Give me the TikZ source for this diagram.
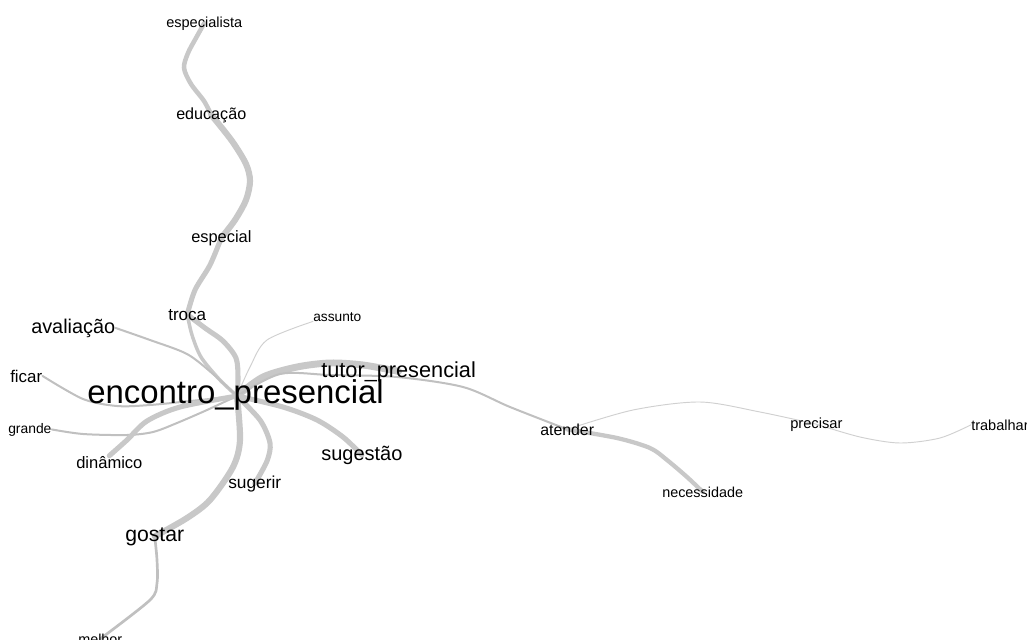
\documentclass[tikz,border=0pt]{standalone}
\usepackage{fontspec}
\setmainfont{Liberation Sans}
\usetikzlibrary{backgrounds}
\definecolor{edgegray}{RGB}{200,200,200}
\definecolor{thingray}{RGB}{192,192,192}
\definecolor{faintgray}{RGB}{208,208,208}
\begin{document}
\begin{tikzpicture}[x=0.75pt,y=-0.75pt,
  lbl/.style={inner sep=0pt, anchor=base west, text=black,
    font=\fontsize{#1}{#1}\selectfont},
  wedge/.style={draw=edgegray, line width=#1, line cap=round, line join=round},
  thinedge/.style={draw=thingray, line width=#1, line cap=round, line join=round},
  faintedge/.style={draw=faintgray, line width=0.7pt, line cap=round}]
\useasboundingbox (0,0) rectangle (1027,639);

% word labels (left edge, baseline)
\node[lbl=24.7] (enc)      at (87,403)  {encontro\_presencial};
\node[lbl=16.3] (tutor)    at (321,377) {tutor\_presencial};
\node[lbl=14.9] (aval)     at (31,333)  {avaliação};
\node[lbl=15.0] (sugestao) at (321,460) {sugestão};
\node[lbl=15.9] (gostar)   at (125,541) {gostar};
\node[lbl=12.1] (educ)     at (176,119) {educação};
\node[lbl=12.3] (esp)      at (191,242) {especial};
\node[lbl=10.9] (esplista) at (166,27)  {especialista};
\node[lbl=12.8] (troca)    at (168,320) {troca};
\node[lbl=10.3] (assunto)  at (313,321) {assunto};
\node[lbl=12.7] (ficar)    at (10,382)  {ficar};
\node[lbl=10.4] (grande)   at (8,433)   {grande};
\node[lbl=12.4] (din)      at (76,468)  {dinâmico};
\node[lbl=13.0] (sugerir)  at (228,488) {sugerir};
\node[lbl=10.8] (melhor)   at (78,644)  {melhor};
\node[lbl=11.9] (atender)  at (540,435) {atender};
\node[lbl=10.8] (nec)      at (662,497) {necessidade};
\node[lbl=11.0] (prec)     at (790,428) {precisar};
\node[lbl=10.9] (trab)     at (971,430) {trabalhar};

\coordinate (hub) at (237,396);

\begin{pgfonlayer}{background}
\fill[white] (0,0) rectangle (1027,639);
% upper chain
\draw[wedge=3.4pt] plot[smooth] coordinates {(esplista.center) (196,38) (188,53) (184,68) (191,84) (204,101) (educ.center)};
\draw[wedge=4.6pt] plot[smooth] coordinates {(educ.center) (232,141) (246,164) (250,181) (246,200) (235,220) (esp.center)};
\draw[wedge=3.8pt] plot[smooth] coordinates {(esp.center) (210,265) (195,290) (troca.center)};
\draw[wedge=2.6pt] plot[smooth] coordinates {(troca.center) (192,335) (201,357) (219,379) (hub)};
\draw[wedge=3.8pt] plot[smooth] coordinates {(troca.center) (205,328) (223,341) (236,358) (238,378) (hub)};
% left side
\draw[thinedge=1.5pt] plot[smooth] coordinates {(aval.east) (150,340) (187,354) (213,374) (hub)};
\draw[thinedge=1.5pt] plot[smooth] coordinates {(ficar.east) (83,399) (117,406) (150,405) (200,400) (hub)};
\draw[thinedge=1.5pt] plot[smooth] coordinates {(grande.east) (83,434) (127,435) (153,432) (177,423) (207,410) (hub)};
\draw[wedge=3.8pt] plot[smooth] coordinates {(din.north) (127,440) (147,421) (180,407) (hub)};
\draw[faintedge] plot[smooth] coordinates {(assunto.south west) (267,340) (250,367) (hub)};
% right side
\draw[wedge=5.2pt] plot[smooth] coordinates {(hub) (263,377) (297,367) (330,363) (363,365) (tutor.center)};
\draw[thinedge=1.5pt] plot[smooth] coordinates {(hub) (280,374) (330,375) (397,377) (463,387) (510,407) (atender.center)};
\draw[wedge=3.8pt] plot[smooth] coordinates {(hub) (283,407) (317,420) (343,437) (sugestao.center)};
\draw[wedge=3.8pt] plot[smooth] coordinates {(hub) (260,420) (270,443) (267,461) (sugerir.center)};
\draw[wedge=4.6pt] plot[smooth] coordinates {(hub) (240,440) (233,467) (210,500) (187,518) (gostar.center)};
\draw[thinedge=2pt] plot[smooth] coordinates {(gostar.center) (157,560) (157,583) (150,600) (melhor.center)};
% atender cluster
\draw[wedge=3.2pt] plot[smooth] coordinates {(atender.center) (617,438) (650,448) (667,460) (687,477) (nec.center)};
\draw[faintedge] plot[smooth] coordinates {(atender.center) (633,410) (700,402) (760,412) (prec.center)};
\draw[faintedge] plot[smooth] coordinates {(prec.center) (860,437) (900,443) (940,438) (trab.west)};
\end{pgfonlayer}
\end{tikzpicture}
\end{document}
